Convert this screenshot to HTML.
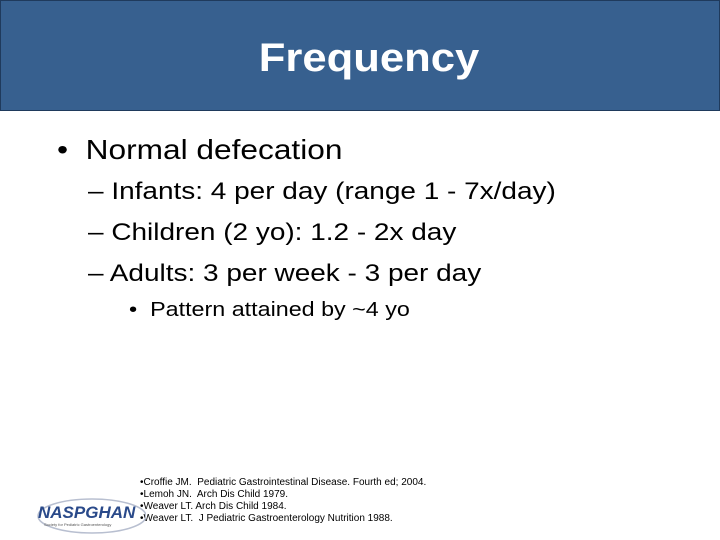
<!DOCTYPE html>
<html><head><meta charset="utf-8"><style>
body{margin:0;width:720px;height:540px;background:#fff;position:relative;overflow:hidden;font-family:"Liberation Sans",sans-serif;color:#000}
.a{position:absolute;white-space:nowrap;transform-origin:0 50%}
</style></head><body>
<div class="a" style="left:0;top:0;width:718px;height:109px;background:#37608f;border:1px solid #1f3a5c"></div>
<div class="a" style="left:0;width:738px;top:33px;text-align:center;font-size:40px;font-weight:bold;color:#fff;line-height:50px;transform:scaleX(1.09);transform-origin:369px 50%">Frequency</div>
<div class="a" style="left:57px;top:133px;font-size:28px;line-height:34px;transform:scaleX(1.13)">•&nbsp; Normal defecation</div>
<div class="a" style="left:88px;top:177px;font-size:24px;line-height:30px;transform:scaleX(1.165)">– Infants: 4 per day (range 1 - 7x/day)</div>
<div class="a" style="left:88px;top:218px;font-size:24px;line-height:30px;transform:scaleX(1.165)">– Children (2 yo): 1.2 - 2x day</div>
<div class="a" style="left:88px;top:259px;font-size:24px;line-height:30px;transform:scaleX(1.165)">– Adults: 3 per week - 3 per day</div>
<div class="a" style="left:129px;top:297px;font-size:20px;line-height:26px;transform:scaleX(1.165)">•&nbsp; Pattern attained by ~4 yo</div>
<div class="a" style="left:140px;top:477px;font-size:10px;line-height:12px">•Croffie JM.&nbsp; Pediatric Gastrointestinal Disease. Fourth ed; 2004.<br>•Lemoh JN.&nbsp; Arch Dis Child 1979.<br>•Weaver LT. Arch Dis Child 1984.<br>•Weaver LT.&nbsp; J Pediatric Gastroenterology Nutrition 1988.</div>
<svg class="a" style="left:34px;top:496px" width="112" height="40">
<ellipse cx="58" cy="20" rx="54" ry="17" fill="none" stroke="#b8bfd0" stroke-width="1.5"/>
<text x="4" y="22" font-family="Liberation Sans" font-size="17" font-weight="bold" font-style="italic" fill="#2a4a8a">NASPGHAN</text>
<text x="10" y="30" font-family="Liberation Sans" font-size="4" fill="#555">Society for Pediatric Gastroenterology</text>
</svg>
</body></html>
